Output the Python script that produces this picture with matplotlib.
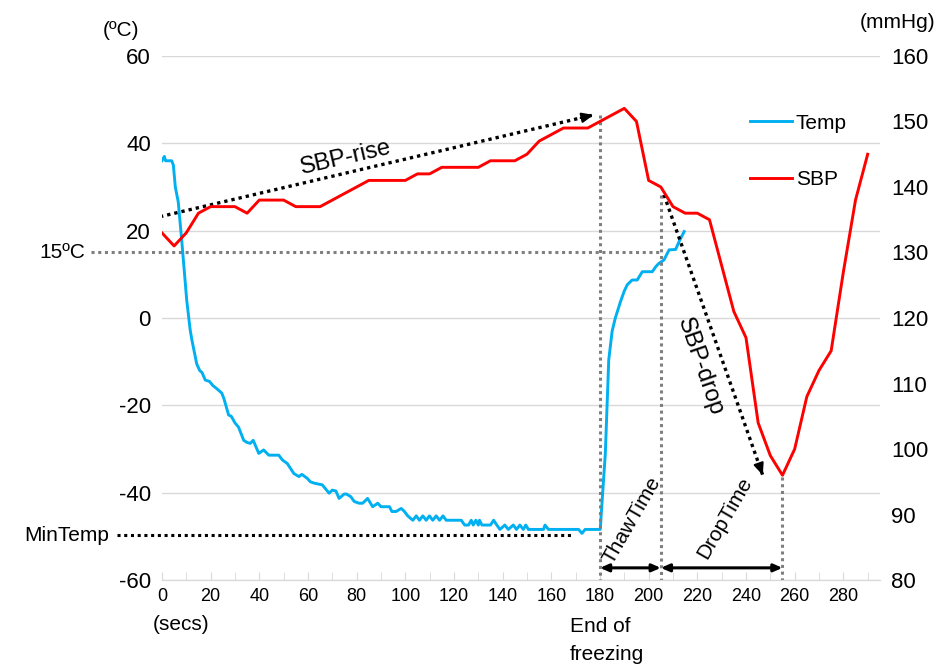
import matplotlib.pyplot as plt
import numpy as np

plt.rcParams['font.family'] = ['Liberation Sans', 'DejaVu Sans']
plt.rcParams['axes.unicode_minus'] = False

# temperature trace (secs, degC)
temp_t = [0, 1, 1.5, 4, 4.7, 5.5, 6.7, 8.1, 10.2, 11.6, 12.3, 14.3, 15.5, 16.5, 17.8,
          19.5, 21, 22.6, 24.6, 25.5, 27.4, 28.5, 30, 31.5, 33.6, 35, 36.3, 37.5, 39.8,
          41.8, 43.9, 48, 49.5, 51.5, 54.2, 56.3, 57.5, 59.7, 61, 62.5, 65.9, 68.7, 70,
          71.5, 72.8, 74.9, 75.8, 77.6, 79, 81, 82.5, 84.5, 86.6, 88.7, 90, 93.5, 94.5,
          96.2, 98.3, 99.5, 101, 103.1, 104.5, 105.8, 107.2, 108.6, 109.9, 111.3, 112.7,
          114.1, 115.5, 116.8, 123, 124.4, 126, 127.1, 127.9, 129, 130, 130.5, 131.5, 135,
          136.3, 137.6, 138.9, 140.9, 142.3, 144.4, 145.7, 147.1, 148.5, 149.5, 150.6,
          156.8, 157.4, 158.8, 171.2, 172.6, 173.9, 180.1, 182.2, 183.6, 185, 186.3, 188.4,
          190, 191.2, 193.2, 195.3, 197.4, 201.5, 203, 204.2, 206.3, 208.4, 211.1, 212.5,
          214.6]
temp_v = [36, 37, 36, 36, 35, 30, 26.6, 18, 4, -2.7, -5, -10.5, -12, -12.5, -14.2,
          -14.5, -15.5, -16.2, -17.2, -18.5, -22.2, -22.5, -24, -25, -28, -28.5, -28.7, -28,
          -31, -30.2, -31.4, -31.4, -32.5, -33.3, -35.6, -36.3, -35.8, -36.7, -37.5, -37.8,
          -38.2, -40.1, -39.4, -39.6, -41.3, -40.3, -40.3, -40.9, -42, -42.4, -42.4, -41.3,
          -43.2, -42.4, -43.2, -43.2, -44.3, -44.3, -43.6, -44.2, -45.3, -46.3, -45.3, -46.3,
          -45.3, -46.3, -45.3, -46.3, -45.3, -46.3, -45.3, -46.3, -46.3, -47.4, -47.4, -46.3,
          -47.4, -46.3, -47.4, -46.3, -47.4, -47.4, -46.3, -47.4, -48.4, -47.4, -48.4, -47.4,
          -48.4, -47.4, -48.4, -47.4, -48.4, -48.4, -47.4, -48.4, -48.4, -49.3, -48.4, -48.4,
          -31, -9.6, -3, 0, 3.7, 6.2, 7.6, 8.7, 8.7, 10.6, 10.6, 11.8, 12.5, 13.3, 15.6,
          15.7, 17.5, 19.8]

# systolic blood pressure (secs, mmHg)
sbp_t = [0, 5, 10, 15, 20, 30, 35, 40, 50, 55, 65, 85, 100, 105, 110, 115, 130, 135,
         145, 150, 155, 165, 175, 180, 190, 195, 200, 205, 210, 215, 220, 225, 235, 240,
         245, 250, 255, 260, 265, 270, 275, 280, 285, 290]
sbp_v = [133, 131, 133, 136, 137, 137, 136, 138, 138, 137, 137, 141, 141, 142, 142, 143,
         143, 144, 144, 145, 147, 149, 149, 150, 152, 150, 141, 140, 137, 136, 136, 135,
         121, 117, 104, 99, 96, 100, 108, 112, 115, 127, 138, 145]

end_freeze = 180
thaw_end = 205
sbp_min_t = 255
min_temp = -49.7
ref_temp = 15

blue = '#00B0F0'
red = '#FF0000'
grey = '#7F7F7F'

fig = plt.figure(figsize=(9.36, 6.66), dpi=100)
ax = fig.add_axes([0.173, 0.129, 0.767, 0.787])
ax2 = ax.twinx()

l1, = ax.plot(temp_t, temp_v, color=blue, lw=2.1, label='Temp')
l2, = ax2.plot(sbp_t, sbp_v, color=red, lw=2.1, label='SBP')

ax.set_xlim(0, 295)
ax.set_ylim(-60, 60)
ax2.set_ylim(80, 160)
ax.set_yticks(np.arange(-60, 61, 20))
ax2.set_yticks(np.arange(80, 161, 10))
ax.set_xticks(np.arange(0, 281, 20))
ax.set_xticks(np.arange(0, 291, 10), minor=True)

ax.grid(axis='y', color='#D9D9D9', lw=1)
ax.set_axisbelow(True)
for a in (ax, ax2):
    for s in ('top', 'left', 'right'):
        a.spines[s].set_visible(False)
    a.spines['bottom'].set_color('#D9D9D9')
ax.tick_params(axis='y', length=0, labelsize=16, pad=8)
ax2.tick_params(axis='y', length=0, labelsize=16, pad=8)
ax.tick_params(axis='x', which='both', direction='in', length=6, color='#D9D9D9',
               labelsize=13, pad=6)

# reference lines
dot = (0, (1, 1.2))
ax.plot([-29, thaw_end], [ref_temp, ref_temp], color=grey, lw=2.2, ls=dot, clip_on=False)
ax.plot([end_freeze, end_freeze], [46.5, -60], color=grey, lw=2.2, ls=dot)
ax.plot([thaw_end, thaw_end], [28.2, -60], color=grey, lw=2.2, ls=dot)
ax.plot([sbp_min_t, sbp_min_t], [-36.3, -60], color=grey, lw=2.2, ls=dot)
ax.plot([-18.6, 169], [min_temp, min_temp], color='black', lw=2.2, ls=dot, clip_on=False)


def dotted_arrow(p0, p1):
    ax.plot([p0[0], p1[0]], [p0[1], p1[1]], color='black', lw=2.4, ls=dot)
    q = (p0[0] + 0.97 * (p1[0] - p0[0]), p0[1] + 0.97 * (p1[1] - p0[1]))
    ax.annotate('', xy=p1, xytext=q,
                arrowprops=dict(arrowstyle='-|>,head_length=0.7,head_width=0.3',
                                color='black', lw=1.5, shrinkA=0, shrinkB=0))


dotted_arrow((-0.8, 23.2), (177.4, 46.5))
dotted_arrow((206.3, 28.2), (246.9, -36))

for a, b in ((end_freeze, thaw_end), (thaw_end, sbp_min_t)):
    ax.annotate('', xy=(b, -57.2), xytext=(a, -57.2),
                arrowprops=dict(arrowstyle='<|-|>,head_length=0.5,head_width=0.22',
                                color='black', lw=2.2, shrinkA=0, shrinkB=0))

ax.text(75.6, 36.6, 'SBP-rise', fontsize=17, rotation=13, ha='center', va='center',
        rotation_mode='anchor')
ax.text(220.9, -11.2, 'SBP-drop', fontsize=17, rotation=-71, ha='center', va='center',
        rotation_mode='anchor')
ax.text(193.2, -46.3, 'ThawTime', fontsize=15, rotation=60, ha='center', va='center',
        rotation_mode='anchor')
ax.text(231.2, -45.8, 'DropTime', fontsize=15, rotation=60, ha='center', va='center',
        rotation_mode='anchor')
ax.text(-31.5, ref_temp, '15ºC', fontsize=15, ha='right', va='center')
ax.text(-21.5, min_temp, 'MinTemp', fontsize=15, ha='right', va='center')

fig.text(121 / 936, 1 - 30 / 666, '(ºC)', fontsize=15, ha='center', va='center')
fig.text(898 / 936, 1 - 22 / 666, '(mmHg)', fontsize=15, ha='center', va='center')
fig.text(181 / 936, 1 - 625 / 666, '(secs)', fontsize=15, ha='center', va='center')
fig.text(570 / 936, 1 - 627 / 666, 'End of', fontsize=15, ha='left', va='center')
fig.text(570 / 936, 1 - 654 / 666, 'freezing', fontsize=15, ha='left', va='center')

ax2.legend(handles=[l1, l2], loc='upper left', bbox_to_anchor=(0.819, 0.89),
           frameon=False, fontsize=15, handlelength=2.0, handletextpad=0.2,
           labelspacing=1.8, borderpad=0, borderaxespad=0)

fig.savefig('out.png', dpi=100)
